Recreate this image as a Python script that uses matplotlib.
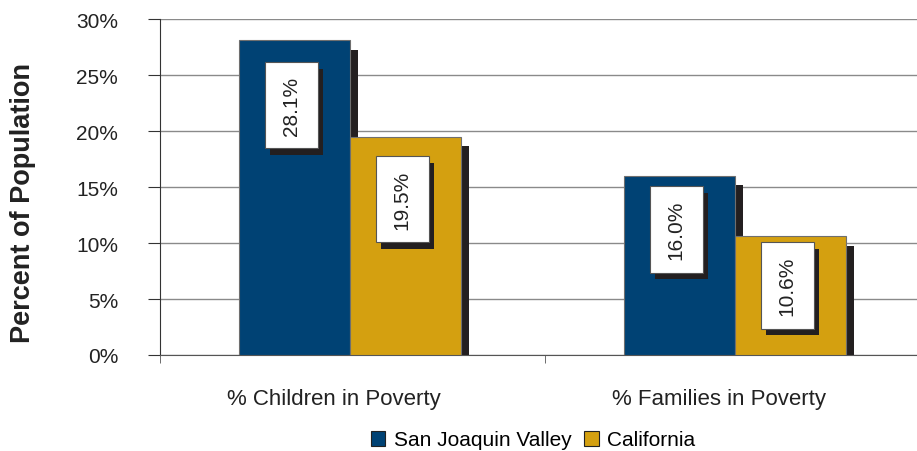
import matplotlib.pyplot as plt
from matplotlib.patches import Rectangle
from matplotlib.transforms import ScaledTranslation

plt.rcParams['font.family'] = ['Liberation Sans', 'DejaVu Sans']

# poverty rates (%)
categories = ["% Children in Poverty", "% Families in Poverty"]
series_names = ["San Joaquin Valley", "California"]
sjv_values = [28.1, 16.0]
ca_values = [19.5, 10.6]
# label box centres (% units) for each bar, in drawing order
label_centres = [[22.3, 11.2], [13.9, 6.2]]

colors = ["#004274", "#D4A010"]
shadow_color = "#231F20"

fig = plt.figure(figsize=(9.17, 4.52), dpi=100)
ax = fig.add_axes([160 / 917, 1 - 356 / 452, 770 / 917, 336 / 452])

bar_w = 0.288
shift = -0.007
shadow_dx, shadow_dy = 0.021, 0.85      # bar shadow offset (x units, % units)
box_w, box_h = 0.137, 7.7               # label box size
box_dx, box_dy = 0.013, 0.6             # label box shadow offset

for s, vals in enumerate([sjv_values, ca_values]):
    for i, v in enumerate(vals):
        x0 = i - bar_w + s * bar_w + shift
        # drop shadow behind the bar
        ax.add_patch(Rectangle((x0 + shadow_dx, 0), bar_w, v - shadow_dy,
                               facecolor=shadow_color, edgecolor="none", zorder=2))
        ax.bar(x0, v, width=bar_w, align="edge", color=colors[s],
               edgecolor="#6f6f6f", linewidth=0.8, zorder=3,
               label=series_names[s] if i == 0 else None)
        # value label in a white box with its own shadow
        cx = x0 + bar_w / 2 - 0.008
        cy = label_centres[s][i]
        ax.add_patch(Rectangle((cx - box_w / 2 + box_dx, cy - box_h / 2 - box_dy),
                               box_w, box_h, facecolor=shadow_color,
                               edgecolor="none", zorder=4))
        ax.add_patch(Rectangle((cx - box_w / 2, cy - box_h / 2), box_w, box_h,
                               facecolor="white", edgecolor="#555555",
                               linewidth=0.8, zorder=5))
        ax.text(cx, cy, f"{v:.1f}%", rotation=90, ha="center", va="center",
                fontsize=15, color="#222222", zorder=6)

ax.set_xlim(-0.5, 1.5)
ax.set_ylim(0, 30)
ax.set_yticks(range(0, 31, 5))
ax.set_yticklabels([f"{t}%" for t in range(0, 31, 5)])
ax.yaxis.grid(True, color="#8a8a8a", linewidth=1.0, zorder=0)
ax.set_axisbelow(True)

ax.set_xticks([0, 1])
ax.set_xticklabels(categories, fontsize=16, color="#222222")
ax.set_xticks([-0.5, 0.5, 1.5], minor=True)
ax.tick_params(axis="x", which="major", length=0, pad=24)
ax.tick_params(axis="x", which="minor", length=6, direction="out", color="#555555")
ax.tick_params(axis="y", length=8.6, direction="out", pad=21.5, labelsize=15,
               labelcolor="#222222", color="#333333")
for lbl in ax.get_xticklabels():
    lbl.set_transform(lbl.get_transform() + ScaledTranslation(-19 / 100, 0, fig.dpi_scale_trans))

for side in ["top", "right"]:
    ax.spines[side].set_visible(False)
ax.spines["left"].set_color("#333333")
ax.spines["bottom"].set_color("#555555")

fig.text(23 / 917, 1 - 203 / 452, "Percent of Population", rotation=90,
         ha="center", va="center", fontsize=19.5, fontweight="bold", color="#222222")

leg = fig.legend(loc="center", bbox_to_anchor=(533 / 917, 1 - 441 / 452), ncol=2,
                 frameon=False, fontsize=15, handlelength=0.7, handleheight=0.7,
                 handletextpad=0.4, columnspacing=0.6, borderaxespad=0)
for h in leg.legend_handles:
    h.set_edgecolor("#222222")
    h.set_linewidth(0.8)

fig.savefig("out.png", dpi=100)
